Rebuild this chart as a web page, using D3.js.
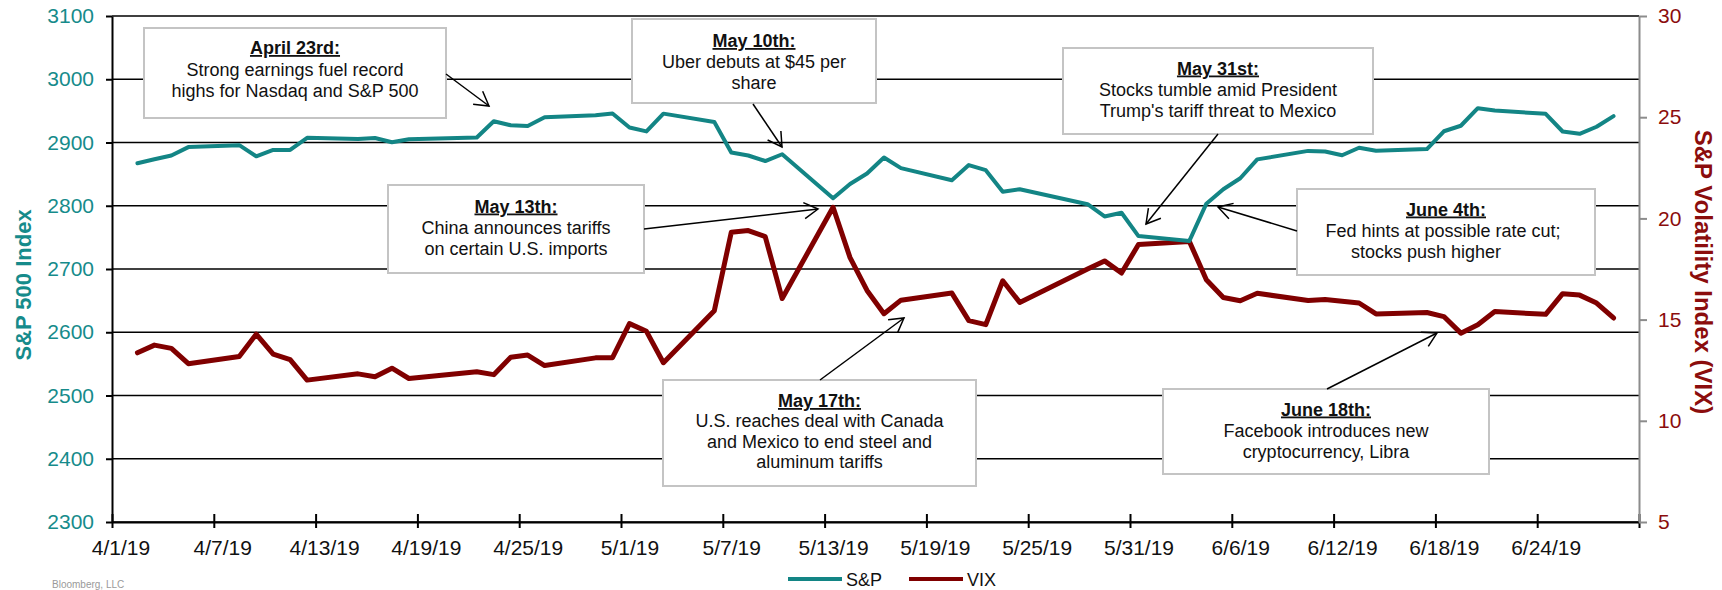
<!DOCTYPE html>
<html>
<head>
<meta charset="utf-8">
<script src="https://cdn.jsdelivr.net/npm/d3@7"></script>
<style>
  html, body { margin: 0; padding: 0; background: #fff; overflow: hidden; }
  svg { display: block; font-family: "Liberation Sans", Arial, sans-serif; }
</style>
</head>
<body>
<svg id="chart" width="1722" height="590"></svg>
<script>
// trading days shown on the chart
const dates = [
  "2019-04-02","2019-04-03","2019-04-04","2019-04-05","2019-04-08","2019-04-09","2019-04-10","2019-04-11","2019-04-12",
  "2019-04-15","2019-04-16","2019-04-17","2019-04-18","2019-04-22","2019-04-23","2019-04-24","2019-04-25","2019-04-26",
  "2019-04-29","2019-04-30","2019-05-01","2019-05-02","2019-05-03","2019-05-06","2019-05-07","2019-05-08","2019-05-09",
  "2019-05-10","2019-05-13","2019-05-14","2019-05-15","2019-05-16","2019-05-17","2019-05-20","2019-05-21","2019-05-22",
  "2019-05-23","2019-05-24","2019-05-28","2019-05-29","2019-05-30","2019-05-31","2019-06-03","2019-06-04","2019-06-05",
  "2019-06-06","2019-06-07","2019-06-10","2019-06-11","2019-06-12","2019-06-13","2019-06-14","2019-06-17","2019-06-18",
  "2019-06-19","2019-06-20","2019-06-21","2019-06-24","2019-06-25","2019-06-26","2019-06-27","2019-06-28"
];

const spValues = [
  2867.24, 2873.40, 2879.39, 2892.74, 2895.77, 2878.20, 2888.21, 2888.32, 2907.41,
  2905.58, 2907.06, 2900.45, 2905.03, 2907.97, 2933.68, 2927.25, 2926.17, 2939.88,
  2943.03, 2945.83, 2923.73, 2917.52, 2945.64, 2932.47, 2884.05, 2879.42, 2870.72,
  2881.40, 2811.87, 2834.41, 2850.96, 2876.32, 2859.53, 2840.23, 2864.36, 2856.27,
  2822.24, 2826.06, 2802.39, 2783.02, 2788.86, 2752.06, 2744.45, 2803.27, 2826.15,
  2843.49, 2873.34, 2886.73, 2885.72, 2879.84, 2891.64, 2886.98, 2889.67, 2917.75,
  2926.46, 2954.18, 2950.46, 2945.35, 2917.38, 2913.78, 2924.92, 2941.76
];

const vixValues = [
  13.36, 13.74, 13.58, 12.82, 13.18, 14.28, 13.30, 13.02, 12.01,
  12.32, 12.18, 12.60, 12.09, 12.42, 12.28, 13.14, 13.25, 12.73,
  13.11, 13.12, 14.80, 14.42, 12.87, 15.44, 19.32, 19.40, 19.10,
  16.04, 20.55, 18.06, 16.44, 15.29, 15.96, 16.31, 14.95, 14.75,
  16.92, 15.85, 17.50, 17.90, 17.30, 18.71, 18.86, 16.97, 16.09,
  15.93, 16.30, 15.94, 15.99, 15.91, 15.82, 15.28, 15.35, 15.15,
  14.33, 14.75, 15.40, 15.26, 16.28, 16.21, 15.82, 15.08
];

const spTicks = [2300, 2400, 2500, 2600, 2700, 2800, 2900, 3000, 3100];
const vixTicks = [5, 10, 15, 20, 25, 30];
const dateTicks = [
  "2019-04-01","2019-04-07","2019-04-13","2019-04-19","2019-04-25","2019-05-01","2019-05-07","2019-05-13",
  "2019-05-19","2019-05-25","2019-05-31","2019-06-06","2019-06-12","2019-06-18","2019-06-24","2019-06-30"
];

// text boxes with arrows (page layout, in pixels)
const notes = [
  { box: [144, 28, 302, 90], base: 54, lead: 21.5, title: "April 23rd:",
    lines: ["Strong earnings fuel record", "highs for Nasdaq and S&P 500"], from: [446, 74], to: [489, 106] },
  { box: [632, 19, 244, 84], base: 47, lead: 21, title: "May 10th:",
    lines: ["Uber debuts at $45 per", "share"], from: [753, 104], to: [782, 147] },
  { box: [1063, 48, 310, 86], base: 74.5, lead: 21, title: "May 31st:",
    lines: ["Stocks tumble amid President", "Trump's tariff threat to Mexico"], from: [1218, 134], to: [1146, 224] },
  { box: [388, 185, 256, 88], base: 212.5, lead: 21, title: "May 13th:",
    lines: ["China announces tariffs", "on certain U.S. imports"], from: [644, 229], to: [818, 209] },
  { box: [1297, 189, 298, 86], base: 215.5, lead: 21, title: "June 4th:",
    lines: ["Fed hints at possible rate cut;", "stocks push higher"], shift: [0, -3, -20], from: [1297, 231], to: [1218, 207] },
  { box: [663, 380, 313, 106], base: 407, lead: 20.4, title: "May 17th:",
    lines: ["U.S. reaches deal with Canada", "and Mexico to end steel and", "aluminum tariffs"], from: [820, 380], to: [904, 318] },
  { box: [1163, 389, 326, 85], base: 415.5, lead: 21, title: "June 18th:",
    lines: ["Facebook introduces new", "cryptocurrency, Libra"], from: [1327, 389], to: [1437, 333] }
];

const spColor = "#138585";
const spText = "#168b8b";
const vixColor = "#800000";
const vixText = "#8b0d0d";

const width = 1722, height = 590;
const margin = { top: 16, left: 112, right: 83, bottom: 68 };
const innerwidth = width - margin.left - margin.right;
const innerheight = height - margin.top - margin.bottom;

const parse = d3.utcParse("%Y-%m-%d");
const fmt = d3.utcFormat("%-m/%-d/%y");
const days = dates.map(parse);
const tickDays = dateTicks.map(parse);
const mid = d => d3.utcHour.offset(d, 12);

const svg = d3.select("#chart");

const xScale = d3.scaleUtc()
  .domain([tickDays[0], tickDays[tickDays.length - 1]])
  .range([0, innerwidth]);
const ySp = d3.scaleLinear().domain([2300, 3100]).range([innerheight, 0]);
const yVix = d3.scaleLinear().domain([5, 30]).range([innerheight, 0]);
const halfDay = xScale(mid(tickDays[0])) - xScale(tickDays[0]);

const canvas = svg.append("g")
  .attr("transform", `translate(${margin.left},${margin.top})`);

// gridlines
canvas.append("g")
  .selectAll("line")
  .data(spTicks)
  .enter()
  .append("line")
  .attr("x1", 0)
  .attr("x2", innerwidth)
  .attr("y1", d => ySp(d))
  .attr("y2", d => ySp(d))
  .attr("stroke", "#000")
  .attr("stroke-width", 1.6);

// series
const spLine = d3.line()
  .x((d, i) => xScale(mid(days[i])))
  .y(d => ySp(d));
const vixLine = d3.line()
  .x((d, i) => xScale(mid(days[i])))
  .y(d => yVix(d));

canvas.append("path")
  .datum(vixValues)
  .attr("d", vixLine)
  .attr("fill", "none")
  .attr("stroke", vixColor)
  .attr("stroke-width", 5)
  .attr("stroke-linejoin", "round")
  .attr("stroke-linecap", "round");

canvas.append("path")
  .datum(spValues)
  .attr("d", spLine)
  .attr("fill", "none")
  .attr("stroke", spColor)
  .attr("stroke-width", 4)
  .attr("stroke-linejoin", "round")
  .attr("stroke-linecap", "round");

// x axis
const xAxisGroup = canvas.append("g")
  .attr("transform", `translate(0,${innerheight})`)
  .call(d3.axisBottom(xScale)
    .tickValues(tickDays)
    .tickFormat((d, i) => i === tickDays.length - 1 ? "" : fmt(d))
    .tickSizeInner(6)
    .tickSizeOuter(0)
    .tickPadding(11.7));
xAxisGroup.select(".domain").attr("stroke", "#000").attr("stroke-width", 2);
xAxisGroup.selectAll(".tick line").attr("y1", -8).attr("stroke", "#000").attr("stroke-width", 2);
xAxisGroup.selectAll(".tick text")
  .attr("dx", halfDay)
  .attr("fill", "#111")
  .attr("font-size", 21)
  .attr("font-family", null);

// left axis
const yAxisGroup = canvas.append("g")
  .call(d3.axisLeft(ySp)
    .tickValues(spTicks)
    .tickFormat(d3.format("d"))
    .tickSizeInner(6)
    .tickSizeOuter(0)
    .tickPadding(12));
yAxisGroup.select(".domain").attr("stroke", "#000").attr("stroke-width", 2);
yAxisGroup.selectAll(".tick line").attr("stroke", "#000").attr("stroke-width", 2);
yAxisGroup.selectAll(".tick text")
  .attr("fill", spText)
  .attr("font-size", 21)
  .attr("font-family", null);

// right axis
const rAxisGroup = canvas.append("g")
  .attr("transform", `translate(${innerwidth},0)`)
  .call(d3.axisRight(yVix)
    .tickValues(vixTicks)
    .tickSizeInner(8)
    .tickSizeOuter(0)
    .tickPadding(11));
rAxisGroup.select(".domain").attr("stroke", "#8c8c8c").attr("stroke-width", 2);
rAxisGroup.selectAll(".tick line").attr("stroke", "#8c8c8c").attr("stroke-width", 2);
rAxisGroup.selectAll(".tick text")
  .attr("fill", vixText)
  .attr("font-size", 21)
  .attr("font-family", null);

// axis titles
svg.append("text")
  .attr("transform", `translate(31,285) rotate(-90)`)
  .attr("text-anchor", "middle")
  .attr("font-size", 22)
  .attr("font-weight", "bold")
  .attr("fill", spText)
  .text("S&P 500 Index");

svg.append("text")
  .attr("transform", `translate(1695,272) rotate(90)`)
  .attr("text-anchor", "middle")
  .attr("font-size", 24)
  .attr("font-weight", "bold")
  .attr("fill", vixText)
  .text("S&P Volatility Index (VIX)");

// annotation boxes
const noteGroup = svg.append("g");
notes.forEach(n => {
  const [bx, by, bw, bh] = n.box;
  const cx = bx + bw / 2;
  const g = noteGroup.append("g");
  g.append("rect")
    .attr("x", bx).attr("y", by).attr("width", bw).attr("height", bh)
    .attr("fill", "#fff")
    .attr("stroke", "#c4c4c4")
    .attr("stroke-width", 2);
  g.append("text")
    .attr("x", cx)
    .attr("y", n.base)
    .attr("text-anchor", "middle")
    .attr("font-size", 18)
    .attr("font-weight", "bold")
    .attr("text-decoration", "underline")
    .attr("fill", "#111")
    .text(n.title);
  n.lines.forEach((t, i) => {
    g.append("text")
      .attr("x", cx + (n.shift ? n.shift[i + 1] : 0))
      .attr("y", n.base + n.lead * (i + 1))
      .attr("text-anchor", "middle")
      .attr("font-size", 18)
      .attr("fill", "#111")
      .text(t);
  });
  // arrow with open head
  const [x1, y1] = n.from, [x2, y2] = n.to;
  const ang = Math.atan2(y2 - y1, x2 - x1);
  const len = 16, spread = Math.PI / 6;
  g.append("line")
    .attr("x1", x1).attr("y1", y1).attr("x2", x2).attr("y2", y2)
    .attr("stroke", "#000").attr("stroke-width", 1.5);
  g.append("path")
    .attr("d", `M${x2 - len * Math.cos(ang - spread)},${y2 - len * Math.sin(ang - spread)}L${x2},${y2}L${x2 - len * Math.cos(ang + spread)},${y2 - len * Math.sin(ang + spread)}`)
    .attr("fill", "none")
    .attr("stroke", "#000")
    .attr("stroke-width", 1.5);
});

// legend
const legend = svg.append("g").attr("transform", "translate(788,579)");
[["S&P", spColor, 0], ["VIX", vixColor, 121]].forEach(([name, color, dx]) => {
  legend.append("line")
    .attr("x1", dx).attr("x2", dx + 54)
    .attr("y1", 0).attr("y2", 0)
    .attr("stroke", color)
    .attr("stroke-width", 4);
  legend.append("text")
    .attr("x", dx + 58)
    .attr("y", 7)
    .attr("font-size", 18)
    .attr("fill", "#111")
    .text(name);
});

// source note at the bottom edge
svg.append("text")
  .attr("x", 52)
  .attr("y", 588)
  .attr("font-size", 10)
  .attr("fill", "#9a9a9a")
  .text("Bloomberg, LLC");
</script>
</body>
</html>
